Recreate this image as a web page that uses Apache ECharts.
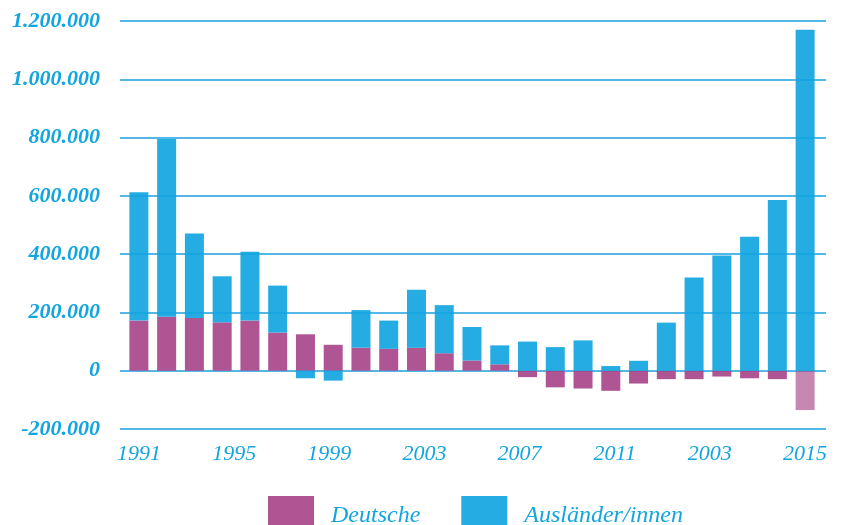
<!DOCTYPE html>
<html>
<head>
<meta charset="utf-8">
<script src="https://cdn.jsdelivr.net/npm/echarts@6/dist/echarts.min.js"></script>
<style>
  html, body { margin: 0; padding: 0; background: #fff; }
  #main { width: 841px; height: 525px; }
</style>
</head>
<body>
<div id="main"></div>
<script>
// Wanderungssaldo 1991-2015
var years = ['1991', '1992', '1993', '1994', '1995', '1996', '1997', '1998', '1999', '2000',
    '2001', '2002', '2003', '2004', '2005', '2006', '2007', '2008', '2009', '2010',
    '2011', '2012', '2013', '2014', '2015'];
// labels as printed under the axis (evenly spread, not tied to the bars)
var tickLabels = ['1991', '1995', '1999', '2003', '2007', '2011', '2003', '2015'];
var deutsche = [172000, 185000, 181000, 166000, 172000, 131000, 125000, 89000, 79000, 75000,
    79000, 60000, 35000, 22000, -22000, -57000, -61000, -69000, -44000, -29000,
    -29000, -20000, -26000, -29000, -135000];
var auslaender = [440000, 610000, 290000, 158000, 236000, 161000, -26000, -34000, 129000, 97000,
    199000, 165000, 115000, 65000, 100000, 81000, 104000, 16000, 34000, 165000,
    320000, 395000, 460000, 586000, 1170000];

var blue = '#12a5e0';
var purple = '#a8478b';
var font = 'Liberation Serif';

function fmt(v) {
    var s = String(Math.abs(v)).replace(/\B(?=(\d{3})+(?!\d))/g, '.');
    return (v < 0 ? '-' : '') + s;
}

var myChart = echarts.init(document.getElementById('main'));
myChart.setOption({
    animation: false,
    grid: [
        {left: 120, right: 15, top: 21, bottom: 96},   // gridlines + y labels
        {left: 125, right: 22, top: 21, bottom: 96},   // bars
        {left: 139, right: 36, top: 21, bottom: 96}    // x labels
    ],
    legend: {
        left: 263,
        top: 491,
        itemWidth: 46,
        itemHeight: 40,
        itemGap: 41,
        icon: 'rect',
        textStyle: {
            color: blue,
            fontFamily: font,
            fontStyle: 'italic',
            fontSize: 24,
            padding: [0, 0, 0, 12]
        },
        data: ['Deutsche', 'Ausländer/innen']
    },
    xAxis: [
        {gridIndex: 0, type: 'value', show: false, min: 0, max: 1},
        {gridIndex: 1, type: 'category', data: years, show: false},
        {
            gridIndex: 2, type: 'value', min: 0, max: 7, interval: 1,
            axisLine: {show: false},
            axisTick: {show: false},
            splitLine: {show: false},
            axisLabel: {
                margin: 14,
                color: blue,
                fontFamily: font,
                fontStyle: 'italic',
                fontSize: 22,
                formatter: function (v) { return tickLabels[v]; }
            }
        }
    ],
    yAxis: [
        {
            gridIndex: 0, type: 'value', min: -200000, max: 1200000, interval: 200000,
            axisLine: {show: false},
            axisTick: {show: false},
            splitLine: {lineStyle: {color: '#1b9fdc', width: 1.5}},
            axisLabel: {
                margin: 20,
                color: blue,
                fontFamily: font,
                fontStyle: 'italic',
                fontWeight: 'bold',
                fontSize: 22,
                formatter: fmt
            }
        },
        {gridIndex: 1, type: 'value', min: -200000, max: 1200000, show: false},
        {gridIndex: 2, type: 'value', min: -200000, max: 1200000, show: false}
    ],
    series: [
        {
            name: 'Deutsche',
            type: 'bar',
            xAxisIndex: 1,
            yAxisIndex: 1,
            stack: 'saldo',
            barWidth: 19,
            itemStyle: {color: purple, opacity: 0.92},
            data: deutsche.map(function (v, i) {
                // last bar is printed lighter in the original
                return i === deutsche.length - 1 ? {value: v, itemStyle: {opacity: 0.65}} : v;
            })
        },
        {
            name: 'Ausländer/innen',
            type: 'bar',
            xAxisIndex: 1,
            yAxisIndex: 1,
            stack: 'saldo',
            barWidth: 19,
            itemStyle: {color: blue, opacity: 0.92},
            data: auslaender
        }
    ]
});
</script>
</body>
</html>
